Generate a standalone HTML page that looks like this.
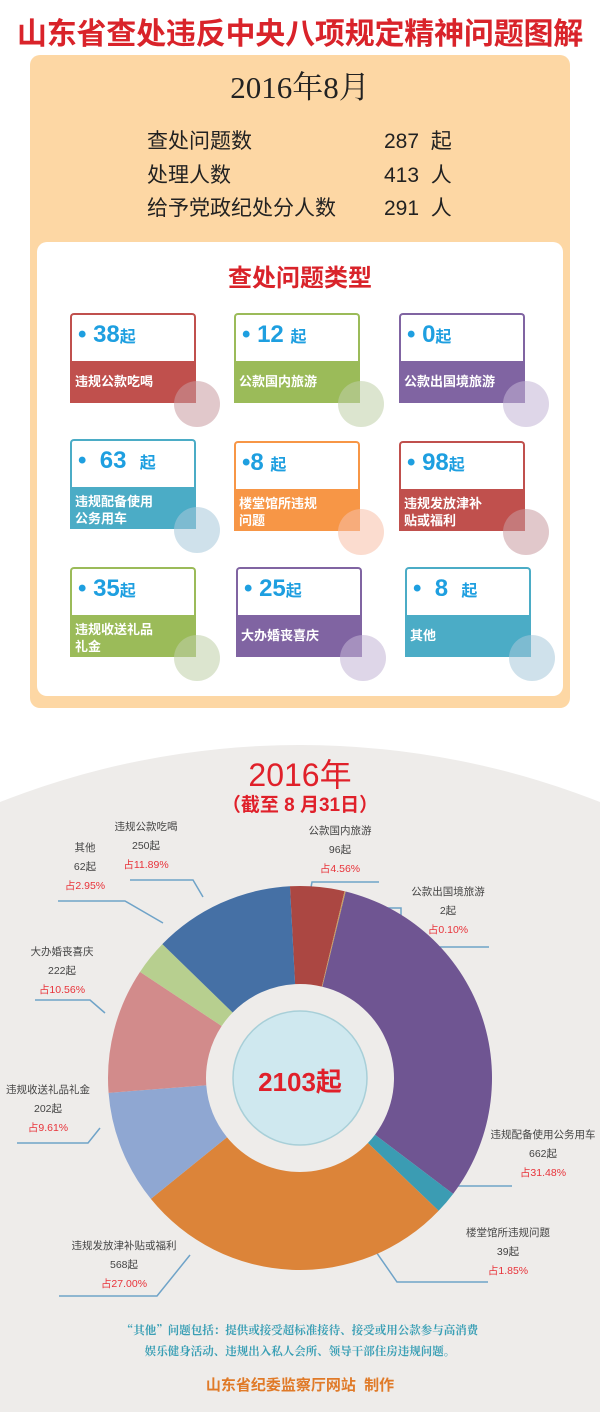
<!DOCTYPE html>
<html><head><meta charset="utf-8">
<style>
*{margin:0;padding:0;box-sizing:border-box}
html,body{width:600px;height:1412px;overflow:hidden}
body{background:#fff;position:relative;font-family:"Liberation Sans","Noto Sans CJK SC",sans-serif}
.a{position:absolute;white-space:nowrap}
.title{left:0;top:9px;width:600px;text-align:center;font-size:30px;font-weight:bold;color:#d9232a;letter-spacing:-0.2px}
.panel{left:30px;top:55px;width:540px;height:653px;background:#fdd7a4;border-radius:10px}
.inner{left:37px;top:242px;width:526px;height:454px;background:#fff;border-radius:10px}
.row{font-size:21px;color:#222}
.card{position:absolute;width:126px;height:90px}
.card .top{position:absolute;left:0;top:0;width:126px;height:48px;background:#fff;border:2px solid;border-bottom:none;border-radius:4px 4px 0 0}
.card .bot{position:absolute;left:0;top:48px;width:126px;height:42px;color:#fff;font-size:13px;font-weight:bold;padding:6px 0 0 5px;line-height:17px;white-space:nowrap}
.card .num{position:absolute;left:8px;top:8px;font-size:24px;font-weight:bold;color:#1e9fe0;white-space:nowrap}
.card .num small{font-size:16px}
.card .c{position:absolute;left:104px;top:68px;width:46px;height:46px;border-radius:50%;opacity:.55}
.lab{position:absolute;text-align:center;font-size:10.5px;color:#444;line-height:19px;transform:translateX(-50%);white-space:nowrap}
.lab span{color:#e8333a}
</style></head><body>
<div class="a title">山东省查处违反中央八项规定精神问题图解</div>
<div class="a panel"></div>
<div class="a" style="left:0;top:62px;width:600px;text-align:center;font-family:'Liberation Serif','Noto Serif CJK SC',serif;font-size:31px;color:#222">2016年8月</div>
<div class="a row" style="left:147px;top:125px">查处问题数</div>
<div class="a row" style="left:147px;top:159px">处理人数</div>
<div class="a row" style="left:147px;top:192px">给予党政纪处分人数</div>
<div class="a row" style="left:384px;top:125px">287&nbsp; 起</div>
<div class="a row" style="left:384px;top:159px">413&nbsp; 人</div>
<div class="a row" style="left:384px;top:192px">291&nbsp; 人</div>
<div class="a inner"></div>
<div class="a" style="left:0;top:258px;width:600px;text-align:center;font-size:24px;font-weight:bold;color:#d9232a">查处问题类型</div>

<div class="card" style="left:70px;top:313px"><div class="top" style="border-color:#c0504d"></div><div class="num">• 38<small>起</small></div><div class="bot" style="background:#c0504d;padding-top:12px">违规公款吃喝</div><div class="c" style="background:#c89aa0"></div></div>
<div class="card" style="left:234px;top:313px"><div class="top" style="border-color:#9bbb59"></div><div class="num">• 12 <small>起</small></div><div class="bot" style="background:#9bbb59;padding-top:12px">公款国内旅游</div><div class="c" style="background:#bfcfa8"></div></div>
<div class="card" style="left:399px;top:313px"><div class="top" style="border-color:#8064a2"></div><div class="num">• 0<small>起</small></div><div class="bot" style="background:#8064a2;padding-top:12px">公款出国境旅游</div><div class="c" style="background:#c3b5d6"></div></div>

<div class="card" style="left:70px;top:439px"><div class="top" style="border-color:#4bacc6"></div><div class="num">•&nbsp; 63&nbsp; <small>起</small></div><div class="bot" style="background:#4bacc6">违规配备使用<br>公务用车</div><div class="c" style="background:#a8c8da"></div></div>
<div class="card" style="left:234px;top:441px"><div class="top" style="border-color:#f79646"></div><div class="num">•8 <small>起</small></div><div class="bot" style="background:#f79646">楼堂馆所违规<br>问题</div><div class="c" style="background:#f8c0a8"></div></div>
<div class="card" style="left:399px;top:441px"><div class="top" style="border-color:#c0504d"></div><div class="num">• 98<small>起</small></div><div class="bot" style="background:#c0504d">违规发放津补<br>贴或福利</div><div class="c" style="background:#c89aa0"></div></div>

<div class="card" style="left:70px;top:567px"><div class="top" style="border-color:#9bbb59"></div><div class="num">• 35<small>起</small></div><div class="bot" style="background:#9bbb59">违规收送礼品<br>礼金</div><div class="c" style="background:#bfcfa8"></div></div>
<div class="card" style="left:236px;top:567px"><div class="top" style="border-color:#8064a2"></div><div class="num">• 25<small>起</small></div><div class="bot" style="background:#8064a2;padding-top:12px">大办婚丧喜庆</div><div class="c" style="background:#c3b5d6"></div></div>
<div class="card" style="left:405px;top:567px"><div class="top" style="border-color:#4bacc6"></div><div class="num">•&nbsp; 8&nbsp; <small>起</small></div><div class="bot" style="background:#4bacc6;padding-top:12px">其他</div><div class="c" style="background:#a8c8da"></div></div>

<svg class="a" style="left:0;top:0" width="600" height="1412" id="sv">
<circle cx="300" cy="1563" r="818" fill="#eeecea"/>
<g fill="none" stroke="#6fa3c8" stroke-width="1.5" id="ln">
<polyline points="130,880 193,880 203,897"/>
<polyline points="58,901 125,901 163,923"/>
<polyline points="310,893 312,882 379,882"/>
<polyline points="337,908 401,908 401,947 489,947"/>
<polyline points="35,1000 90,1000 105,1013"/>
<polyline points="17,1143 88,1143 100,1128"/>
<polyline points="410,1168 437,1186 512,1186"/>
<polyline points="363,1233 397,1282 488,1282"/>
<polyline points="190,1255 157,1296 59,1296"/>
</g>
<circle id="cc" cx="300" cy="1078" r="67" fill="#cfe8ef" stroke="#a8cfd8" stroke-width="1.5"/>
</svg>
<script>
(function(){
var sv=document.getElementById('sv');
var data=[[4.56,'#ab4742'],[0.10,'#c8a060'],[31.48,'#6f5592'],[1.85,'#3b9cb3'],[27.0,'#dc8439'],[9.61,'#8fa7d2'],[10.56,'#d28b8b'],[2.95,'#b7cf8f'],[11.89,'#4570a5']];
var cx=300,cy=1078,R=192,r=94,a=-3;
function p(ang,rad){var t=(ang-90)*Math.PI/180;return (cx+rad*Math.cos(t)).toFixed(2)+','+(cy+rad*Math.sin(t)).toFixed(2);}
var ref=document.getElementById('cc');
data.forEach(function(d){var b=a+d[0]*3.6;var l=(b-a)>180?1:0;
var e=document.createElementNS('http://www.w3.org/2000/svg','path');
e.setAttribute('d','M'+p(a,R)+' A'+R+','+R+' 0 '+l+' 1 '+p(b,R)+' L'+p(b,r)+' A'+r+','+r+' 0 '+l+' 0 '+p(a,r)+' Z');
e.setAttribute('fill',d[1]);sv.insertBefore(e,ref);a=b;});
})();
</script>
<div class="a" style="left:0;top:750px;width:600px;text-align:center;font-size:32px;color:#e0202a">2016年</div>
<div class="a" style="left:0;top:790px;width:600px;text-align:center;font-size:19px;font-weight:bold;color:#e0202a">（截至 8 月31日）</div>
<div class="a" style="left:0;top:1062px;width:600px;text-align:center;font-size:26px;font-weight:bold;color:#e0202a">2103起</div>

<div class="lab" style="left:146px;top:818px">违规公款吃喝<br>250起<br><span>占11.89%</span></div>
<div class="lab" style="left:85px;top:839px">其他<br>62起<br><span>占2.95%</span></div>
<div class="lab" style="left:340px;top:822px">公款国内旅游<br>96起<br><span>占4.56%</span></div>
<div class="lab" style="left:448px;top:883px">公款出国境旅游<br>2起<br><span>占0.10%</span></div>
<div class="lab" style="left:62px;top:943px">大办婚丧喜庆<br>222起<br><span>占10.56%</span></div>
<div class="lab" style="left:48px;top:1081px">违规收送礼品礼金<br>202起<br><span>占9.61%</span></div>
<div class="lab" style="left:543px;top:1126px">违规配备使用公务用车<br>662起<br><span>占31.48%</span></div>
<div class="lab" style="left:508px;top:1224px">楼堂馆所违规问题<br>39起<br><span>占1.85%</span></div>
<div class="lab" style="left:124px;top:1237px">违规发放津补贴或福利<br>568起<br><span>占27.00%</span></div>

<div class="a" style="left:0;top:1320px;width:600px;text-align:center;font-family:'Noto Serif CJK SC',serif;font-size:11.5px;font-weight:bold;color:#3a9fb5;line-height:21px">“其他”问题包括：提供或接受超标准接待、接受或用公款参与高消费<br>娱乐健身活动、违规出入私人会所、领导干部住房违规问题。</div>
<div class="a" style="left:0;top:1374px;width:600px;text-align:center;font-size:15px;font-weight:bold;color:#e07a28">山东省纪委监察厅网站&nbsp; 制作</div>
</body></html>
